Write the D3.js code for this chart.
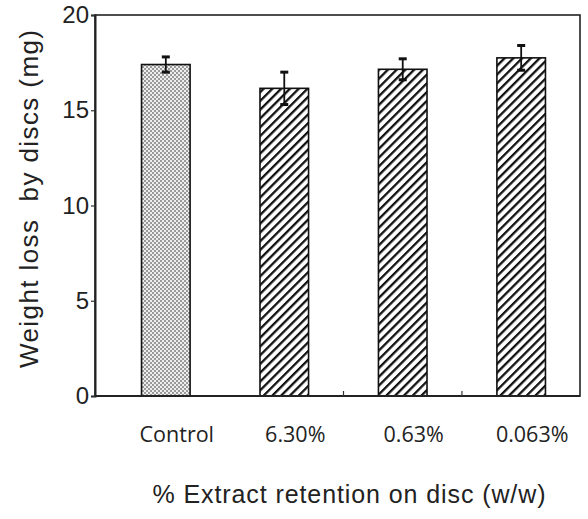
<!DOCTYPE html>
<html>
<head>
<meta charset="utf-8">
<script src="https://cdn.jsdelivr.net/npm/d3@7"></script>
<style>
  body { margin: 0; background: #fff; }
  svg { display: block; }
</style>
</head>
<body>
<svg id="chart" width="588" height="519"></svg>
<script>
// data
var categories = ["Control", "6.30%", "0.63%", "0.063%"];
var means = [17.4, 16.15, 17.15, 17.75];
var errors = [0.4, 0.85, 0.55, 0.65];
var yTicks = [0, 5, 10, 15, 20];

var svg = d3.select("#chart");
var plotL = 95, plotR = 580, plotT = 15, plotB = 396;

var x = d3.scaleBand()
    .domain(categories)
    .range([106, 581])
    .paddingInner(0.59)
    .paddingOuter(0.3);

var y = d3.scaleLinear()
    .domain([0, 20])
    .range([plotB, plotT]);

// fill patterns
var defs = svg.append("defs");

var dots = defs.append("pattern")
    .attr("id", "dots")
    .attr("patternUnits", "userSpaceOnUse")
    .attr("width", 4)
    .attr("height", 4)
dots.append("rect").attr("width", 4).attr("height", 4).attr("fill", "#eeeeee")
dots.append("rect").attr("x", 0).attr("y", 0).attr("width", 2).attr("height", 2).attr("fill", "#9a9a9a")
dots.append("rect").attr("x", 2).attr("y", 2).attr("width", 2).attr("height", 2).attr("fill", "#9a9a9a")

var hatch = defs.append("pattern")
    .attr("id", "hatch")
    .attr("patternUnits", "userSpaceOnUse")
    .attr("width", 6.2)
    .attr("height", 6.2)
    .attr("patternTransform", "rotate(45)")
hatch.append("rect").attr("width", 6.2).attr("height", 6.2).attr("fill", "#fff")
hatch.append("line")
    .attr("x1", 0).attr("y1", 0).attr("x2", 0).attr("y2", 6.2)
    .attr("stroke", "#111")
    .attr("stroke-width", 4.6)

// frame
svg.append("rect")
    .attr("x", plotL)
    .attr("y", plotT)
    .attr("width", plotR - plotL)
    .attr("height", plotB - plotT)
    .attr("fill", "none")
    .attr("stroke", "#222")
    .attr("stroke-width", 1.6)

// bars
svg.selectAll("rect.bar")
    .data(categories)
    .enter()
    .append("rect")
    .attr("class", "bar")
    .attr("x", function(d) { return x(d) })
    .attr("y", function(d, i) { return y(means[i]) })
    .attr("width", x.bandwidth())
    .attr("height", function(d, i) { return y(0) - y(means[i]) })
    .attr("fill", function(d, i) { return i == 0 ? "url(#dots)" : "url(#hatch)" })
    .attr("stroke", "#111")
    .attr("stroke-width", 1.6)

// error bars
var err = svg.selectAll("g.err")
    .data(categories)
    .enter()
    .append("g")
    .attr("class", "err")
    .attr("stroke", "#111")

err.append("line")
    .attr("x1", function(d) { return x(d) + x.bandwidth() / 2 })
    .attr("x2", function(d) { return x(d) + x.bandwidth() / 2 })
    .attr("y1", function(d, i) { return y(means[i] - errors[i]) })
    .attr("y2", function(d, i) { return y(means[i] + errors[i]) })
    .attr("stroke-width", 1.8)

err.selectAll("line.cap")
    .data(function(d, i) { return [[d, means[i] - errors[i]], [d, means[i] + errors[i]]] })
    .enter()
    .append("line")
    .attr("class", "cap")
    .attr("x1", function(d) { return x(d[0]) + x.bandwidth() / 2 - 4 })
    .attr("x2", function(d) { return x(d[0]) + x.bandwidth() / 2 + 4 })
    .attr("y1", function(d) { return y(d[1]) })
    .attr("y2", function(d) { return y(d[1]) })
    .attr("stroke-width", 3)

// y axis
var yAxis = svg.append("g")
    .attr("transform", "translate(" + plotL + ",0)")
    .call(d3.axisLeft(y).tickValues(yTicks).tickSize(4).tickPadding(2))
yAxis.select(".domain").attr("stroke-width", 2).attr("stroke", "#222")
yAxis.selectAll(".tick line").attr("stroke", "#333").attr("stroke-width", 1.2)
yAxis.selectAll(".tick text")
    .attr("font-family", "Liberation Sans, Arial, sans-serif")
    .attr("font-size", "24px")
    .attr("fill", "#222")

// x axis line
svg.append("line")
    .attr("x1", plotL).attr("x2", plotR)
    .attr("y1", y(0)).attr("y2", y(0))
    .attr("stroke", "#222")
    .attr("stroke-width", 2)

// small marks between the bars
svg.selectAll("line.minor")
    .data(categories.slice(2))
    .enter()
    .append("line")
    .attr("class", "minor")
    .attr("x1", function(d) { return x(d) - x.step() * x.paddingInner() / 2 })
    .attr("x2", function(d) { return x(d) - x.step() * x.paddingInner() / 2 })
    .attr("y1", y(0))
    .attr("y2", y(0) - 5)
    .attr("stroke", "#333")
    .attr("stroke-width", 1.2)

// category labels
svg.selectAll("text.cat")
    .data(categories)
    .enter()
    .append("text")
    .attr("class", "cat")
    .attr("x", function(d) { return x(d) + x.bandwidth() / 2 + 11 })
    .attr("y", 442)
    .attr("text-anchor", "middle")
    .attr("font-family", "Open Sans, sans-serif")
    .attr("font-size", "21.5px")
    .attr("fill", "#222")
    .text(function(d) { return d })

// axis titles
svg.append("text")
    .attr("x", 349)
    .attr("y", 503)
    .attr("text-anchor", "middle")
    .attr("font-family", "Liberation Sans, Arial, sans-serif")
    .attr("font-size", "25px")
    .attr("textLength", 393)
    .attr("lengthAdjust", "spacing")
    .attr("fill", "#222")
    .text("% Extract retention on disc (w/w)")

svg.append("text")
    .attr("transform", "translate(38,199) rotate(-90)")
    .attr("text-anchor", "middle")
    .attr("font-family", "Liberation Sans, Arial, sans-serif")
    .attr("font-size", "26px")
    .attr("textLength", 338)
    .attr("lengthAdjust", "spacing")
    .attr("fill", "#222")
    .style("white-space", "pre")
    .text("Weight loss  by discs (mg)")
</script>
</body>
</html>
